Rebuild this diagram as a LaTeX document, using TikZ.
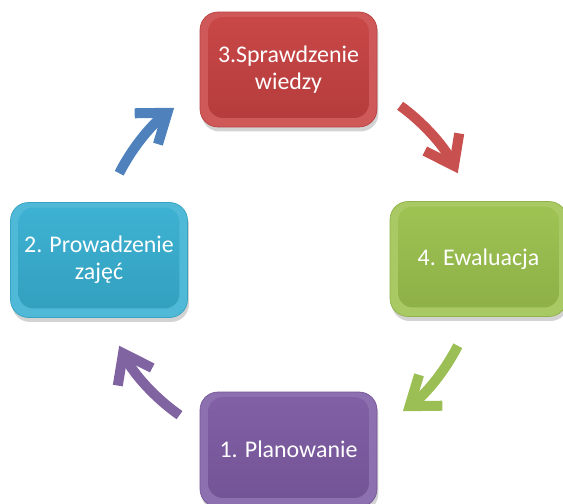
\documentclass[tikz,border=0pt]{standalone}
\usepackage{fontspec}
\setmainfont{Carlito}
\usetikzlibrary{arrows.meta,shadows,calc}
\definecolor{redbox}{RGB}{200,66,66}
\definecolor{bluebox}{RGB}{56,176,210}
\definecolor{greenbox}{RGB}{156,194,78}
\definecolor{purplebox}{RGB}{126,92,164}
\definecolor{redarr}{RGB}{200,80,78}
\definecolor{bluearr}{RGB}{79,129,189}
\definecolor{greenarr}{RGB}{155,190,85}
\definecolor{purplearr}{RGB}{128,100,162}

\begin{document}
\begin{tikzpicture}[
    x=0.02cm, y=0.02cm,
    box/.style={rounded corners=0.36cm, minimum width=3.54cm, minimum height=2.3cm, align=center, text=white,
        font=\fontsize{13.6}{15.4}\selectfont, fill=#1!88!white, draw=#1!92!black, thin,
        drop shadow={opacity=0.35, shadow xshift=0.3mm, shadow yshift=-0.9mm},
        path picture={\shade[top color=#1!97!white, bottom color=#1!90!black, rounded corners=0.3cm]
            ($(path picture bounding box.south west)+(0.16cm,0.18cm)$) rectangle ($(path picture bounding box.north east)+(-0.16cm,-0.1cm)$);}},
    arr/.style={line width=5.7pt, -{Straight Barb[length=15pt, width=22pt]}}
]
\useasboundingbox (0,0) rectangle (563,503);
\node[box=redbox] (spr) at (288.5,433.5) {3.Sprawdzenie\\wiedzy};
\node[box=bluebox] (prow) at (99,243) {2. Prowadzenie\\zajęć};
\node[box=greenbox] (ewal) at (478.5,244) {4. Ewaluacja};
\node[box=purplebox] (plan) at (288.5,53.5) {1. Planowanie};
\coordinate (mid) at ($(spr)!0.5!(plan)$);
\coordinate (b1) at ($(mid)+(153:190)$);
\coordinate (b2) at ($(mid)+(54:190)$);
\coordinate (b3) at ($(mid)+(-27:190)$);
\coordinate (b4) at ($(mid)+(235:190)$);
\draw[arr, bluearr] (b1) arc[start angle=153, end angle=127, radius=190];
\draw[arr, redarr] (b2) arc[start angle=54, end angle=27, radius=190];
\draw[arr, greenarr] (b3) arc[start angle=-27, end angle=-53, radius=190];
\draw[arr, purplearr] (b4) arc[start angle=235, end angle=207, radius=190];
\end{tikzpicture}
\end{document}
